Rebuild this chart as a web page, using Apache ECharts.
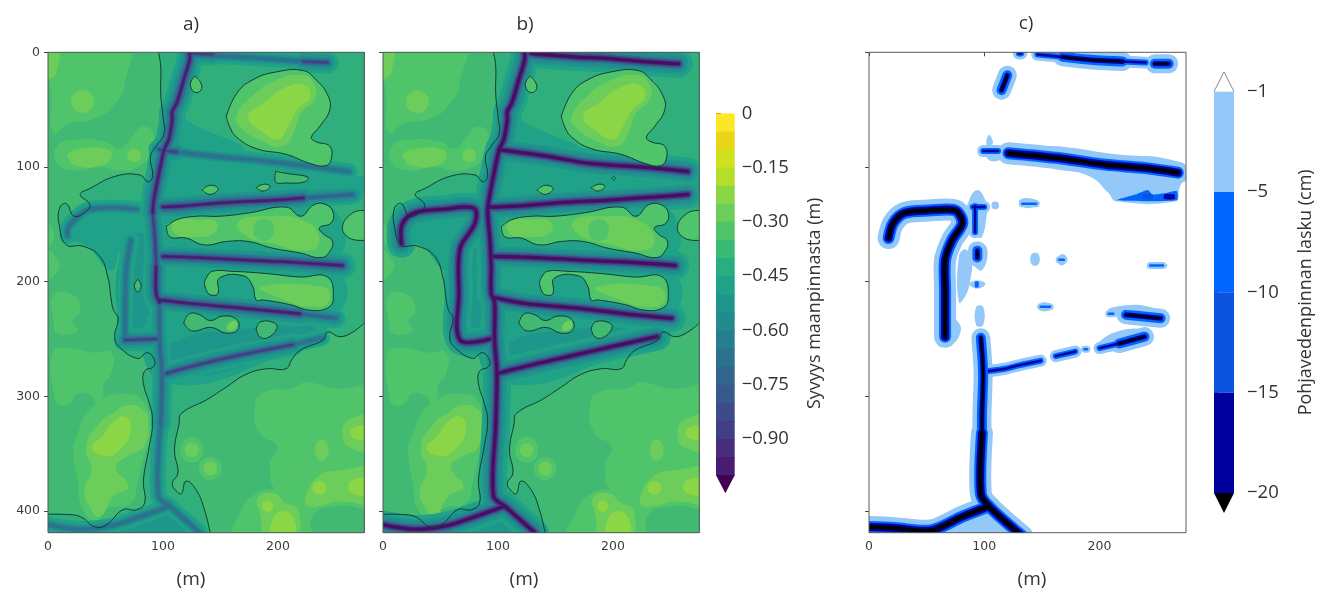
<!DOCTYPE html>
<html><head><meta charset="utf-8">
<style>html,body{margin:0;padding:0;background:#fff}#c{width:1326px;height:592px;filter:blur(0.55px)}</style>
<script src="https://cdn.jsdelivr.net/npm/echarts@6/dist/echarts.min.js"></script>
</head><body><div id="c"></div>
<script>
// ---------- axis values ----------
const xTicks=[0,100,200], yTicks=[0,100,200,300,400];
const depthTicks=[0,-0.15,-0.30,-0.45,-0.60,-0.75,-0.90];
const drawdownLevels=['-1','-5','-10','-15','-20'];
// ---------- depth contours (m, m) ----------
const contourWest=[[96,0],[98,12],[98,36],[100,56],[101,71],[94,82],[89,91],[91,108],[87,113],[80,107],[59,108],[36,119],[28,124],[36,132],[35,137],[23,143],[16,132],[10,136],[10,152],[16,168],[30,169],[45,178],[52,196],[55,216],[57,225],[61,232],[58,248],[62,257],[78,267],[86,262],[92,267],[92,274],[84,278],[83,289],[88,306],[91,321],[88,344],[83,373],[84,393],[77,399],[65,399],[51,412],[41,414],[28,405],[13,403],[0,403]];
const contourEast=[[275,236],[265,244],[254,248],[243,244],[239,251],[219,260],[212,268],[207,276],[190,276],[172,281],[155,292],[138,303],[116,315],[114,324],[110,347],[113,367],[108,376],[112,383],[116,385],[120,374],[129,382],[136,399],[141,419]];
const contourEdge=[[275,138],[265,140],[256,152],[262,162],[275,164]];
const blobLarge=[[155,56],[164,36],[178,24],[199,17],[222,16],[233,24],[243,37],[245,50],[236,65],[229,74],[233,78],[245,82],[246,94],[241,99],[228,97],[207,89],[181,84],[164,74],[158,65]];
const blobStrip=[[103,152],[112,146],[129,143],[149,143],[175,140],[207,135],[220,143],[231,133],[242,133],[248,140],[246,149],[236,153],[240,159],[247,164],[246,172],[238,179],[219,175],[196,171],[174,165],[155,165],[136,168],[120,162],[106,161]];
const blobNotch=[[136,201],[139,210],[145,212],[148,210],[149,197],[170,195],[178,204],[181,216],[187,216],[210,220],[228,225],[243,223],[248,215],[243,196],[219,196],[190,193],[160,191],[143,191],[138,196]];
const blobSmall1=[[128,21],[133,27],[133,33],[128,35],[124,30],[125,24]];
const blobSmall2=[[134,120],[141,116],[148,119],[141,124]];
const blobSmall3=[[181,118],[188,115],[193,117],[187,121]];
const blobLow1=[[118,236],[123,228],[132,229],[141,234],[152,230],[164,233],[165,242],[155,245],[142,240],[125,243]];
const blobLow2=[[181,241],[185,235],[197,236],[199,241],[191,249],[184,248]];
const blobOnlyA1=[[198,104],[210,106],[226,109],[223,113],[207,114],[198,113]];
const blobOnlyA2=[[78,198],[81,203],[78,209],[75,203]];
const blobOnlyB1=[[199,110],[200.5,108.5],[202,110],[200.5,111.5]];
// ---------- depth bands (band k = -0.05k ... -0.05(k+1)) ----------
const lightPatches=[
 {band:5,ring:[[3,-5],[68,-5],[67,25],[58,45],[40,58],[18,62],[5,70],[3,40]]},
 {band:4,ring:[[-5,-5],[8,-5],[8,15],[3,22],[-5,22]]},
 {band:4,ring:[[20,43],[30,33],[40,43],[30,53]]},
 {band:5,ring:[[8,82],[25,76],[50,78],[62,84],[72,75],[82,65],[92,72],[88,90],[78,100],[62,103],[45,100],[25,103],[8,97]]},
 {band:4,ring:[[18,88],[30,84],[52,85],[55,92],[45,99],[25,99],[18,93]]},
 {band:4,ring:[[69,90],[75,84],[81,90],[75,96]]},
 {band:5,ring:[[-5,150],[3,152],[4,165],[-5,170]]},
 {band:5,ring:[[-5,172],[6,178],[9,190],[-5,198]]},
 {band:5,ring:[[5,212],[22,212],[28,225],[22,235],[26,243],[8,245],[5,235]]},
 {band:5,ring:[[4,262],[15,258],[40,262],[55,262],[55,280],[48,290],[48,300],[42,308],[38,300],[25,298],[20,305],[10,308],[5,298]]},
 {band:5,ring:[[25,335],[40,308],[68,298],[85,308],[89,335],[84,350],[78,375],[72,393],[52,398],[42,408],[30,398],[26,375],[22,350]]},
 {band:4,ring:[[68,308],[83,312],[87,323],[83,344],[68,353],[59,362],[70,379],[57,387],[45,405],[36,396],[32,382],[38,364],[33,344],[45,323],[56,315]]},
 {band:3,ring:[[38,345],[48,334],[57,322],[68,318],[72,330],[63,346],[50,352]]},
 {band:5,ring:[[180,309],[187,297],[213,293],[224,288],[248,293],[290,296],[290,368],[254,364],[228,368],[213,379],[199,383],[193,359],[199,344],[184,332]]},
 {band:5,ring:[[161,430],[167,402],[181,385],[204,379],[225,367],[248,361],[290,361],[290,396],[251,396],[230,405],[228,430]]},
 {band:4,ring:[[183,388],[198,385],[205,392],[218,400],[212,430],[190,430],[185,405]]},
 {band:4,ring:[[225,385],[235,370],[250,365],[290,365],[290,392],[250,392],[240,395],[225,395]]},
 {band:4,ring:[[256,332],[265,319],[290,319],[290,346],[265,346]]},
 {band:3,ring:[[263,332],[270,326],[290,326],[290,338],[270,338]]},
 {band:4,ring:[[232,347],[238,338],[244,347],[238,356]]},
 {band:3,ring:[[230,380],[236,374],[242,380],[236,386]]},
 {band:3,ring:[[261,379],[268,372],[290,372],[290,386],[268,386]]},
 {band:3,ring:[[186,396],[191,391],[196,396],[191,401]]},
 {band:3,ring:[[197,404],[212,404],[212,430],[197,430]]},
 {band:5,ring:[[115,347],[125,335],[135,347],[125,358]]},
 {band:4,ring:[[119,347],[125,341],[131,347],[125,353]]},
 {band:5,ring:[[131,363],[141,353],[151,363],[141,373]]},
 {band:4,ring:[[135,363],[141,357],[147,363],[141,369]]}
];
const tealPatches=[
 {band:8,ring:[[108,55],[130,65],[170,85],[105,88]]},
 {band:8,ring:[[100,92],[262,108],[280,110],[280,122],[100,132]]},
 {band:8,ring:[[25,142],[90,142],[90,165],[65,172],[55,190],[35,170],[17,160]]},
 {band:9,ring:[[66,165],[92,165],[95,250],[67,250]]},
 {band:8,ring:[[97,222],[240,236],[232,252],[100,288]]},
 {band:9,ring:[[100,258],[180,240],[232,240],[215,258],[104,284]]},
 {band:8,ring:[[97,140],[240,132],[250,178],[97,172]]},
 {band:8,ring:[[97,186],[250,192],[250,226],[97,212]]},
 {band:9,ring:[[55,430],[105,396],[136,430]]},
 {band:8,ring:[[-10,408],[30,412],[60,418],[60,430],[-10,430]]}
];
const innerHighlights=[
 {band:4,ring:[[164,56],[178,38],[199,24],[222,20],[231,27],[232,41],[220,53],[213,71],[204,82],[187,78],[169,67]]},
 {band:3,ring:[[174,56],[188,44],[204,32],[222,28],[228,39],[217,50],[208,66],[200,76],[187,70]]},
 {band:4,ring:[[110,147],[129,146],[146,148],[144,158],[125,161],[110,158]]},
 {band:4,ring:[[165,148],[190,143],[225,148],[236,165],[225,173],[196,167],[172,160]]},
 {band:5,ring:[[181,148],[194,148],[194,162],[181,162]]},
 {band:4,ring:[[185,205],[240,205],[244,218],[228,222],[206,216]]},
 {band:4,ring:[[156,238],[163,234],[164,240],[157,243]]}
];
// ---------- drains, panel a and panel b ----------
const drainsA=[
 {k:'strong',p:[[123,0],[123,7],[118,24],[112,44],[108,52],[108,59],[105,76],[101,85],[96,108],[92,129],[91,140]]},
 {k:'medium',p:[[91,140],[93,164],[94,187]]},
 {k:'strong',p:[[94,187],[94,210],[97,218]]},
 {k:'weak',p:[[97,218],[97,251],[99,280],[98,324]]},
 {k:'faint',p:[[98,324],[96,387],[106,396],[132,419]]},
 {k:'faint',p:[[105,396],[80,405],[55,413],[28,416],[0,412]]},
 {k:'medium',p:[[125,1],[143,2]]},
 {k:'faint',p:[[143,3],[180,5],[222,8]]},
 {k:'medium',p:[[222,8],[243,9]]},
 {k:'medium',p:[[97,85],[112,87]]},
 {k:'faint',p:[[112,87],[138,90],[190,95],[262,104]]},
 {k:'strong',p:[[100,135],[118,134],[155,131],[196,129],[222,127]]},
 {k:'weak',p:[[222,127],[265,124]]},
 {k:'strong',p:[[100,178],[129,179],[167,181],[210,183],[256,186]]},
 {k:'strong',p:[[97,216],[123,219],[167,223],[219,228]]},
 {k:'weak',p:[[219,228],[250,232]]},
 {k:'medium',p:[[103,280],[132,272],[167,264],[213,255]]},
 {k:'faint',p:[[213,255],[238,249]]},
 {k:'faint',p:[[17,160],[18,152],[36,137],[77,137]]},
 {k:'faint',p:[[72,164],[68,190],[67,251]]},
 {k:'medium',p:[[67,251],[94,250]]}
];
const drainsB=[
 {k:'bold',p:[[123,0],[123,7],[118,24],[112,44],[108,52],[108,59],[105,76],[101,85],[96,108],[92,129],[91,140],[93,164],[94,187],[94,210],[97,218],[97,251],[99,280],[98,324],[96,387],[106,396],[132,419]]},
 {k:'bold',p:[[105,396],[80,405],[55,413],[28,416],[0,412]]},
 {k:'bold',p:[[129,1],[167,4],[190,5],[225,8],[257,10]]},
 {k:'bold',p:[[102,85],[138,90],[181,97],[225,100],[265,104]]},
 {k:'bold',p:[[92,135],[118,134],[155,131],[196,129],[239,126],[265,124]]},
 {k:'bold',p:[[97,178],[129,179],[167,181],[210,183],[254,186]]},
 {k:'bold',p:[[97,214],[123,219],[167,223],[210,228],[251,232]]},
 {k:'bold',p:[[100,280],[132,272],[167,264],[202,256],[238,248]]},
 {k:'bold',p:[[16,167],[16,152],[22,143],[31,139],[51,137],[79,136],[80,149],[67,171],[66,210],[67,251],[93,250]]}
];
// ---------- groundwater drawdown, panel c ----------
const drawdownPatches=[
 {level:0,ring:[[103,80],[113,82],[162,82],[214,89],[263,94],[273,104],[269,120],[266,130],[214,130],[208,123],[191,108],[162,102],[118,94],[104,94],[101,82]]},
 {level:0,ring:[[104,72],[107,76],[107,80],[102,80]]},
 {level:1,ring:[[215,129],[231,124],[242,120],[246,124],[256,123],[267,121],[267,129]]},
 {level:2,ring:[[238,124],[246,124],[246,128],[238,128]]},
 {level:3,ring:[[256,124],[265,124],[265,128],[256,128]]},
 {level:0,ring:[[94,120],[102,132],[102,143],[98,161],[94,161],[86,152],[86,132]]},
 {level:0,ring:[[89,168],[102,170],[98,190],[89,182]]},
 {level:0,ring:[[78,178],[84,172],[89,182],[88,198],[84,212],[78,218]]},
 {level:0,ring:[[87,202],[94,199],[101,202],[94,206]]},
 {level:1,ring:[[92,200],[95,200],[95,205],[92,205]]},
 {level:0,ring:[[107,131],[112,131],[112,136],[107,136]]},
 {level:0,ring:[[130,130],[137,127],[148,131],[137,136]]},
 {level:0,ring:[[141,176],[147,176],[147,185],[141,185]]},
 {level:0,ring:[[163,181],[168,176],[172,181],[167,186]]},
 {level:0,ring:[[241,186],[250,183],[259,186],[250,189]]},
 {level:0,ring:[[146,222],[152,218],[160,222],[152,226]]},
 {level:0,ring:[[93,222],[99,222],[99,238],[93,238]]},
 {level:0,ring:[[207,225],[220,221],[243,222],[256,232],[243,236],[228,236],[222,235],[214,230]]},
 {level:0,ring:[[197,255],[217,243],[243,243],[246,251],[228,258],[198,261]]},
 {level:0,ring:[[60,225],[78,236],[78,248],[70,255],[60,255]]},
 {level:0,ring:[[70,430],[100,402],[118,430]]}
];
const drawdownStrokes=[
 {k:'heavy',p:[[17,162],[21,149],[31,140],[52,138],[75,138],[81,149],[72,164],[66,181],[66,207],[66,248]]},
 {k:'heavy',p:[[121,88],[162,92],[205,98],[240,101],[268,105]]},
 {k:'thin',p:[[99,86],[112,86]]},
 {k:'medium',p:[[168,4],[197,7],[220,8]]},
 {k:'thin',p:[[146,2],[168,4]]},
 {k:'thin',p:[[220,8],[240,9]]},
 {k:'medium',p:[[248,10],[260,10]]},
 {k:'thin',p:[[130,1],[132,1]]},
 {k:'medium',p:[[120,20],[115,33]]},
 {k:'thin',p:[[92,134],[92,157]]},
 {k:'thin',p:[[90,135],[100,135]]},
 {k:'medium',p:[[94,173],[94,179]]},
 {k:'hair',p:[[133,132],[145,132]]},
 {k:'hair',p:[[165,181],[169,181]]},
 {k:'hair',p:[[244,186],[255,186]]},
 {k:'hair',p:[[149,222],[157,222]]},
 {k:'medium',p:[[223,229],[234,230],[253,232]]},
 {k:'hair',p:[[208,228],[212,228]]},
 {k:'medium',p:[[217,254],[228,251],[239,248]]},
 {k:'thin',p:[[200,258],[217,254]]},
 {k:'thin',p:[[162,265],[179,261]]},
 {k:'hair',p:[[187,259],[189,259]]},
 {k:'thin',p:[[104,278],[118,276],[130,273],[149,269]]},
 {k:'medium',p:[[97,249],[99,280],[98,315],[98,332]]},
 {k:'heavy',p:[[98,332],[97,385],[104,396],[133,422]]},
 {k:'heavy',p:[[104,396],[81,405],[54,417],[22,415],[-3,414]]}
];
// ---------- colour tables ----------
const bandColors=['#ecd518','#cfe11c','#ace136','#8bd646','#6ccd5a','#50c46a','#41b973','#30ae7c','#1fa287','#1f968b','#238a8d','#277e8e','#2c728e','#32668e','#38598c','#3e4b8a','#433d84','#472d7b','#481c6e','#470d60'];
const colorbarColors=['#fde725','#ecd518','#cfe11c','#b5de2b','#8bd646','#6ccd5a','#50c46a','#39ba76','#28ae80','#1fa287','#1f968b','#238a8d','#277e8e','#2c728e','#32668e','#38598c','#3e4b8a','#433d84','#472d7b','#481c6e'];
const drawdownColors=['#94c8f8','#0066ff','#0c54de','#00009e','#000000'];
const drainWidths={bold:[[28,8],[20,9],[15,10],[10,12],[7,15],[4.5,17],[3,19]],strong:[[26,8],[19,9],[14,10],[10,12],[6,14],[4,16],[2.4,18]],medium:[[22,8],[16,9],[11,10],[7,12],[4,14],[2,16]],weak:[[20,8],[14,9],[9,10],[5,12],[2.5,13]],faint:[[16,8],[10,9],[6,11],[3,12]]};
const drawdownWidths={heavy:[[22,0],[12,1],[8,3],[4,4]],medium:[[19,0],[10,1],[5,3],[2,4]],thin:[[12,0],[6,1],[2.5,3]],hair:[[7,0],[2.5,1]]};

// ---------- helpers ----------
const fills=(list,cols,key)=>list.map(r=>({fill:cols[r[key]],pts:r.ring}));
const shape=(g,items,smooth)=>({type:'custom',coordinateSystem:'cartesian2d',xAxisIndex:g,yAxisIndex:g,clip:true,silent:true,animation:false,
 data:items.map((_,i)=>[i]),
 renderItem:(params,api)=>{const it=items[api.value(0)];const pts=it.pts.map(p=>api.coord(p));
  return it.fill?{type:'polygon',shape:{points:pts,smooth},style:{fill:it.fill}}
   :{type:'polyline',shape:{points:pts,smooth},style:{fill:null,stroke:it.stroke,lineWidth:it.w,lineCap:'round',lineJoin:'round'}};}});
const frame=(g,c)=>({type:'custom',coordinateSystem:'cartesian2d',xAxisIndex:g,yAxisIndex:g,silent:true,animation:false,data:[[0]],
 renderItem:(p)=>({type:'rect',shape:{x:p.coordSys.x,y:p.coordSys.y,width:p.coordSys.width,height:p.coordSys.height},style:{fill:null,stroke:c,lineWidth:1}})});
function layered(list,table,cols){const out=[];list.forEach(d=>table[d.k].forEach(([w,c])=>out.push({pts:d.p,w,stroke:cols[c],c})));
 return out.map((o,i)=>[o,i]).sort((a,b)=>a[0].c-b[0].c||b[0].w-a[0].w||a[1]-b[1]).map(x=>x[0]);}
const contourLine=(pts)=>({pts,w:1,stroke:'#123c33'});
const closed=(pts)=>pts.concat([pts[0]]);
const interiorRing=contourWest.concat([[-20,430],[150,430]],contourEast.slice().reverse(),[[295,236],[295,-20],[96,-20]]);
function fieldPanel(g,drains,extraBlobs){
 const blobs=[blobLarge,blobStrip,blobNotch,blobSmall1,blobSmall2,blobSmall3,blobLow1,blobLow2].concat(extraBlobs);
 const smallFills=blobs.map((r,i)=>({fill:bandColors[(i===6||i===7||i>=8)?6:5],pts:r}));
 const edgeFill={fill:bandColors[5],pts:contourEdge.concat([[295,164],[295,138]])};
 return [
  shape(g,[{fill:bandColors[6],pts:[[-20,-20],[295,-20],[295,440],[-20,440]]}].concat(fills(lightPatches,bandColors,'band')),0.55),
  shape(g,[{fill:bandColors[7],pts:interiorRing}],0.4),
  shape(g,fills(tealPatches,bandColors,'band'),0.5),
  shape(g,layered(drains,drainWidths,bandColors),0.35),
  shape(g,smallFills.concat([edgeFill]),0.45),
  shape(g,fills(innerHighlights,bandColors,'band'),0.5),
  shape(g,[contourLine(contourWest),contourLine(contourEast),contourLine(contourEdge)].concat(blobs.map(b=>contourLine(closed(b)))),0.45),
  frame(g,'#4d5a55')
 ];
}
// ---------- layout ----------
const panels=[[48,316.3],[383,316.3],[869,317]];
const tickFont={fontFamily:'DejaVu Sans',fontSize:12.5,color:'#3c3c3c'};
const grids=panels.map(([l,w])=>({left:l,top:52.3,width:w,height:480.4}));
grids.push({left:716,top:113.3,width:18.7,height:380});
grids.push({left:1214,top:71.7,width:20,height:441.3});
const xAxes=panels.map((_,i)=>({gridIndex:i,type:'value',min:0,max:275,
 axisLine:{show:false},splitLine:{show:false},axisTick:{length:4,lineStyle:{color:'#444'},customValues:xTicks},
 axisLabel:Object.assign({margin:8,customValues:xTicks},tickFont)}));
const yAxes=panels.map((_,i)=>({gridIndex:i,type:'value',min:0,max:419,inverse:true,
 axisLine:{show:false},splitLine:{show:false},axisTick:{length:4,lineStyle:{color:'#444'},customValues:yTicks},
 axisLabel:Object.assign({show:i===0,margin:8,customValues:yTicks},tickFont)}));
const cbarFont={fontFamily:'Open Sans',fontSize:18.5,color:'#333'};
const nameStyle={fontFamily:'Open Sans',fontSize:18,color:'#333'};
xAxes.push({gridIndex:3,type:'value',min:0,max:1,show:false},{gridIndex:4,type:'value',min:0,max:1,show:false});
yAxes.push({gridIndex:3,type:'value',position:'right',min:-1.05,max:0,
 axisLine:{show:false},splitLine:{show:false},axisTick:{length:5,inside:false,lineStyle:{color:'#666'},customValues:depthTicks},
 axisLabel:Object.assign({margin:7,customValues:depthTicks,formatter:v=>v===0?'0':'\u2212'+Math.abs(v).toFixed(2)},cbarFont),
 name:'Syvyys maanpinnasta (m)',nameLocation:'middle',nameRotate:90,nameGap:71,nameTextStyle:nameStyle});
yAxes.push({gridIndex:4,type:'value',position:'right',min:-0.2,max:4.2,inverse:true,
 axisLine:{show:false},splitLine:{show:false},axisTick:{length:4,lineStyle:{color:'#666'},customValues:[0,1,2,3,4]},
 axisLabel:Object.assign({margin:13,customValues:[0,1,2,3,4],formatter:v=>drawdownLevels[Math.round(v)].replace('-','\u2212')},cbarFont),
 name:'Pohjavedenpinnan lasku (cm)',nameLocation:'middle',nameRotate:90,nameGap:63,nameTextStyle:nameStyle});
const depthBar=colorbarColors.map((c,i)=>({fill:c,pts:[[0,-i*0.05],[1,-i*0.05],[1,-(i+1)*0.05-0.002],[0,-(i+1)*0.05-0.002]]}));
depthBar.push({fill:'#440154',pts:[[0,-1],[1,-1],[0.5,-1.05]]});
const ddBar=[0,1,2,3].map(i=>({fill:drawdownColors[i],pts:[[0,i],[1,i],[1,i+1],[0,i+1]]}));
ddBar.push({fill:'#000',pts:[[0,4],[1,4],[0.5,4.2]]});
ddBar.push({pts:[[0,0],[0.5,-0.2],[1,0]],w:1,stroke:'#8a8a8a'});
const series=[].concat(
 fieldPanel(0,drainsA,[blobOnlyA1,blobOnlyA2]),
 fieldPanel(1,drainsB,[blobOnlyB1]),
 [shape(2,fills(drawdownPatches,drawdownColors,'level').filter(f=>f.fill===drawdownColors[0]),0.45),
  shape(2,layered(drawdownStrokes,drawdownWidths,drawdownColors).filter(s=>s.c===0),0.3),
  shape(2,fills(drawdownPatches,drawdownColors,'level').filter(f=>f.fill!==drawdownColors[0]),0.2),
  shape(2,layered(drawdownStrokes,drawdownWidths,drawdownColors).filter(s=>s.c!==0),0.3),
  frame(2,'#5a5a5a'),
  shape(3,depthBar,0),
  shape(4,ddBar,0)]);
const label=(text,x,y)=>({type:'text',x,y,style:{text,textAlign:'center',textVerticalAlign:'middle',fontFamily:'Open Sans',fontSize:19,fill:'#333'}});
echarts.init(document.getElementById('c'),null,{renderer:'canvas'}).setOption({
 animation:false,backgroundColor:'#fff',grid:grids,xAxis:xAxes,yAxis:yAxes,series,
 graphic:[label('a)',191,25),label('b)',525,25),label('c)',1026,24),label('(m)',191,580),label('(m)',524,580),label('(m)',1032,580)]
});
</script></body></html>
